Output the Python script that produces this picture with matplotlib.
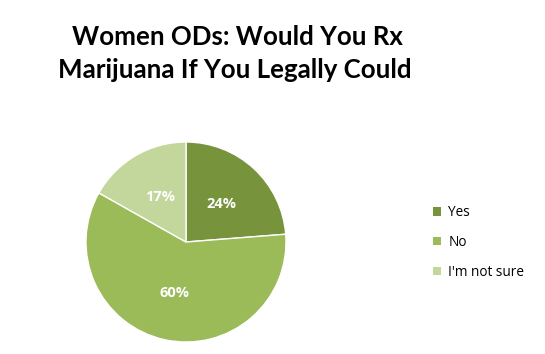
import matplotlib
matplotlib.use("Agg")
from matplotlib import pyplot as plt

categories = ["Yes", "No", "I'm not sure"]
values = [24, 60, 17]
colors = ["#77933C", "#9BBB59", "#C3D69B"]

W, H = 545, 354
fig = plt.figure(figsize=(W / 100, H / 100), dpi=100)

# pie area in pixel terms: centre (186, 242), radius ~100
cx, cy, r = 186, 242, 100
ax = fig.add_axes([(cx - r) / W, (H - cy - r) / H, 2 * r / W, 2 * r / H])

wedges, texts = ax.pie(values, colors=colors, startangle=90, counterclock=False,
                       labels=["%d%%" % v for v in values], labeldistance=0.52,
                       wedgeprops=dict(edgecolor="white", linewidth=1),
                       textprops=dict(color="white", fontweight="bold", fontsize=10.5,
                                      family="Open Sans"))
for t in texts:
    t.set_ha("center")
    t.set_va("center")
ax.set_xlim(-1, 1)
ax.set_ylim(-1, 1)
ax.set_aspect("equal")

fig.text(0.436, 0.895, "Women ODs: Would You Rx", ha="center", va="center",
         fontsize=18.6, fontweight="bold", family="Lato")
fig.text(0.431, 0.803, "Marijuana If You Legally Could", ha="center", va="center",
         fontsize=18.6, fontweight="bold", family="Lato")

leg = fig.legend(wedges, categories, loc="upper left", bbox_to_anchor=(421 / W, 1 - 193 / H),
                 frameon=False, handlelength=0.6, handleheight=0.6, handletextpad=0.5,
                 labelspacing=1.08, prop=dict(family="Open Sans", size=9.8))
for h in leg.legend_handles:
    h.set_edgecolor("none")

fig.savefig("out.png", dpi=100, facecolor="white")
